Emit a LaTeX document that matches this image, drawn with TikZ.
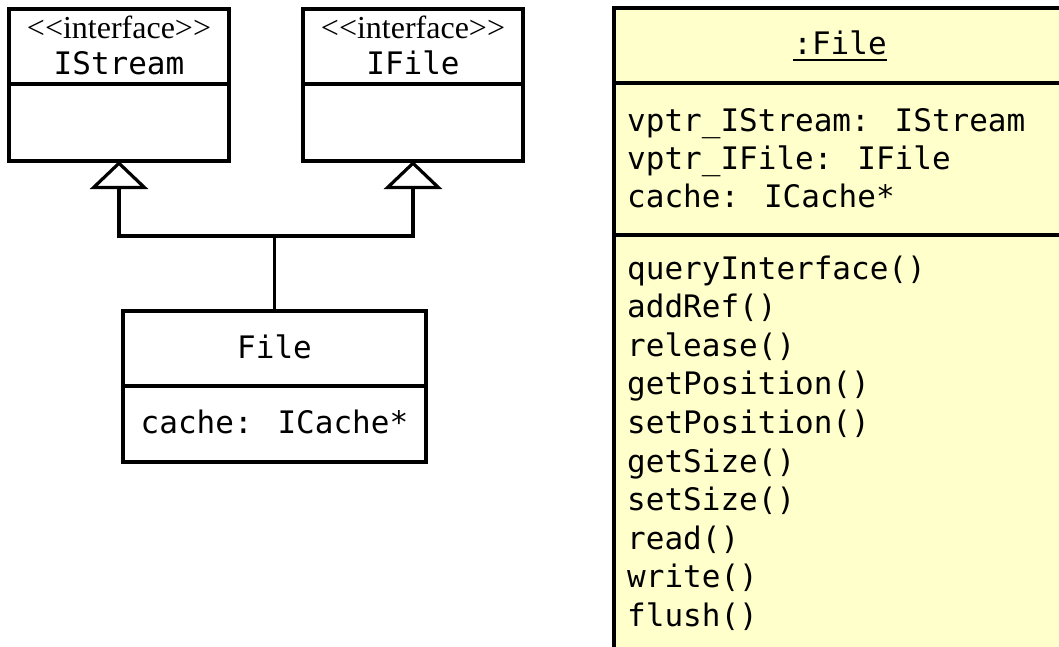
\documentclass[tikz,border=0pt]{standalone}
\usepackage{fontspec}
\newfontfamily\umlmono{DejaVu Sans Mono}
\newfontfamily\umlserif{Liberation Serif}
\usetikzlibrary{arrows.meta}
\definecolor{objfill}{HTML}{FFFFCC}
\tikzset{
  box/.style={draw, line width=3.2pt, inner sep=0pt, outer sep=0pt, anchor=north west},
  sep/.style={line width=3.2pt},
  mono/.style={inner sep=0pt, font=\umlmono\fontsize{31}{38}\selectfont},
  stereo/.style={inner sep=0pt, font=\umlserif\fontsize{32}{36}\selectfont},
  gen/.style={line width=3.2pt, -{Triangle[open, length=28pt, width=58pt, line width=3.2pt]}},
  link/.style={line width=3.2pt}
}
\begin{document}
\begin{tikzpicture}[x=1pt,y=-1pt]
\useasboundingbox (0,0) rectangle (1059,647);
\clip (0,0) rectangle (1059,647);
% IStream
\node[box, minimum width=220pt, minimum height=152pt] (istream) at (9,9) {};
\draw[sep] (istream.west |- 0,84) -- (istream.east |- 0,84);
\node[stereo, anchor=base] (istreamst) at (119,39) {<\kern0pt<interface>\kern0pt>};
\node[mono, anchor=base] (istreamnm) at (119,75) {IStream};
% IFile
\node[box, minimum width=220pt, minimum height=152pt] (ifile) at (303,9) {};
\draw[sep] (ifile.west |- 0,84) -- (ifile.east |- 0,84);
\node[stereo, anchor=base] (ifilest) at (413,39) {<\kern0pt<interface>\kern0pt>};
\node[mono, anchor=base] (ifilenm) at (413,75) {IFile};
% File
\node[box, minimum width=303pt, minimum height=151pt] (file) at (123,311) {};
\draw[sep] (file.west |- 0,386) -- (file.east |- 0,386);
\node[mono, anchor=base] (filenm) at (274.5,358) {File};
\node[mono, anchor=base] (fileattr) at (274.5,433) {cache: ICache*};
% connectors
\coordinate (j) at (file.north |- 0,236);
\draw[link] (file.north) -- (j);
\draw[gen] (j) -| (istream.south);
\draw[gen] (j) -| (ifile.south);
% object :File
\node[box, fill=objfill, minimum width=456pt, minimum height=680pt] (obj) at (614,8) {};
\draw[sep] (obj.west |- 0,83) -- (obj.east |- 0,83);
\draw[sep] (obj.west |- 0,235) -- (obj.east |- 0,235);
\node[mono, anchor=base] (objnm) at (840,55) {:File};
\draw[line width=1.8pt] ([yshift=-4.5pt]objnm.south west) -- ([yshift=-4.5pt]objnm.south east);
\node[mono, anchor=base west] (a1) at (627,132) {vptr\_IStream: IStream};
\node[mono, anchor=base west] (a2) at (627,170) {vptr\_IFile: IFile};
\node[mono, anchor=base west] (a3) at (627,207) {cache: ICache*};
\node[mono, anchor=base west] (o1) at (627,279) {queryInterface()};
\node[mono, anchor=base west] (o2) at (627,317.6) {addRef()};
\node[mono, anchor=base west] (o3) at (627,356.2) {release()};
\node[mono, anchor=base west] (o4) at (627,394.8) {getPosition()};
\node[mono, anchor=base west] (o5) at (627,433.4) {setPosition()};
\node[mono, anchor=base west] (o6) at (627,472) {getSize()};
\node[mono, anchor=base west] (o7) at (627,510.6) {setSize()};
\node[mono, anchor=base west] (o8) at (627,549.2) {read()};
\node[mono, anchor=base west] (o9) at (627,587.8) {write()};
\node[mono, anchor=base west] (o10) at (627,626.4) {flush()};
\end{tikzpicture}
\end{document}
